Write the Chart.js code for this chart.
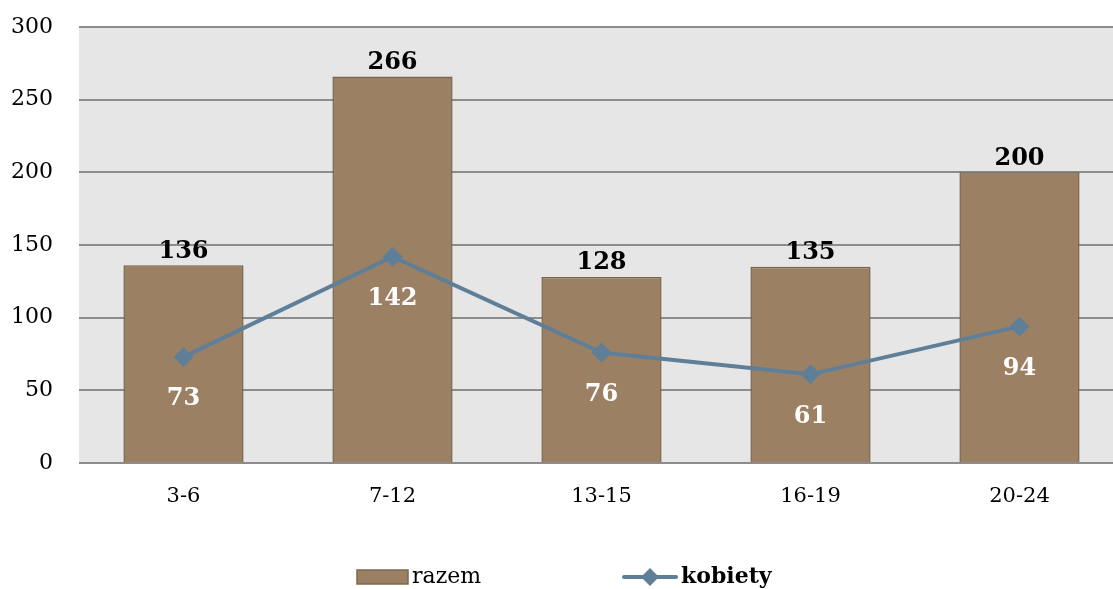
<!DOCTYPE html>
<html>
<head>
<meta charset="utf-8">
<script src="https://cdn.jsdelivr.net/npm/chart.js@4"></script>
<style>
  html, body { margin: 0; padding: 0; background: #fff; overflow: hidden; }
  #wrap { width: 1113px; height: 589px; overflow: hidden; }
</style>
</head>
<body>
<div id="wrap"><canvas id="wykres" width="1124" height="589"></canvas></div>
<script>
// dane
const kategorie = ['3-6', '7-12', '13-15', '16-19', '20-24'];
const razem = [136, 266, 128, 135, 200];
const kobiety = [73, 142, 76, 61, 94];
const osY = [0, 50, 100, 150, 200, 250, 300];

const CZCIONKA = '"DejaVu Serif", "Liberation Serif", serif';
const BRAZ = '#9b8063';
const NIEBIESKI = '#5f7f99';

// szare tło obszaru wykresu
const tloPlugin = {
    id: 'tlo',
    beforeDraw(chart) {
        const { ctx, chartArea: a } = chart;
        ctx.save();
        ctx.fillStyle = '#e6e6e6';
        ctx.fillRect(a.left, a.top, a.right - a.left, a.bottom - a.top);
        ctx.restore();
    }
};

// etykiety wartości + legenda
const etykietyPlugin = {
    id: 'etykiety',
    afterDatasetsDraw(chart) {
        const ctx = chart.ctx;
        ctx.save();
        ctx.textAlign = 'center';
        ctx.textBaseline = 'middle';
        ctx.font = 'bold 24px ' + CZCIONKA;

        chart.getDatasetMeta(1).data.forEach((el, i) => {
            ctx.fillStyle = '#000';
            ctx.fillText(razem[i], el.x, el.y - 14);
        });
        chart.getDatasetMeta(0).data.forEach((el, i) => {
            ctx.fillStyle = '#fff';
            ctx.fillText(kobiety[i], el.x, el.y + 42);
        });

        // legenda
        const ly = 577;
        ctx.fillStyle = BRAZ;
        ctx.strokeStyle = '#7d6a52';
        ctx.lineWidth = 1.5;
        ctx.fillRect(357, ly - 7, 51, 14);
        ctx.strokeRect(357, ly - 7, 51, 14);
        ctx.textAlign = 'left';
        ctx.fillStyle = '#000';
        ctx.font = '22px ' + CZCIONKA;
        ctx.fillText('razem', 412, ly);

        ctx.strokeStyle = NIEBIESKI;
        ctx.lineWidth = 4;
        ctx.lineCap = 'round';
        ctx.beginPath();
        ctx.moveTo(624, ly);
        ctx.lineTo(676, ly);
        ctx.stroke();
        ctx.fillStyle = NIEBIESKI;
        ctx.beginPath();
        ctx.moveTo(650, ly - 9);
        ctx.lineTo(659, ly);
        ctx.lineTo(650, ly + 9);
        ctx.lineTo(641, ly);
        ctx.closePath();
        ctx.fill();
        ctx.fillStyle = '#000';
        ctx.font = 'bold 22px ' + CZCIONKA;
        ctx.fillText('kobiety', 681, ly);
        ctx.restore();
    }
};

new Chart(document.getElementById('wykres').getContext('2d'), {
    type: 'bar',
    data: {
        labels: kategorie,
        datasets: [
            {
                type: 'line',
                label: 'kobiety',
                data: kobiety,
                borderColor: NIEBIESKI,
                backgroundColor: NIEBIESKI,
                borderWidth: 4,
                pointStyle: 'rectRot',
                pointRadius: 10,
                pointBorderWidth: 0,
                tension: 0,
                order: 1
            },
            {
                label: 'razem',
                data: razem,
                backgroundColor: BRAZ,
                borderColor: '#76634c',
                borderWidth: 1.5,
                categoryPercentage: 1,
                barPercentage: 0.575,
                order: 2
            }
        ]
    },
    options: {
        responsive: false,
        animation: false,
        layout: { autoPadding: false, padding: { top: 27, right: 0, left: 0, bottom: 0 } },
        plugins: {
            legend: { display: false },
            tooltip: { enabled: false }
        },
        scales: {
            x: {
                grid: { display: false },
                border: { display: false },
                ticks: { color: '#000', font: { family: CZCIONKA, size: 21 }, padding: 13 },
                afterFit(s) { s.height = 126; s.paddingLeft = 0; s.paddingRight = 0; }
            },
            y: {
                min: 0,
                max: 300,
                afterBuildTicks(s) { s.ticks = osY.map(v => ({ value: v })); },
                grid: { color: '#8c8c8c', lineWidth: 2, drawTicks: false },
                border: { display: false },
                ticks: { color: '#000', font: { family: CZCIONKA, size: 22 }, padding: 26 },
                afterFit(s) { s.width = 79; s.paddingTop = 0; s.paddingBottom = 0; }
            }
        }
    },
    plugins: [tloPlugin, etykietyPlugin]
});
</script>
</body>
</html>
